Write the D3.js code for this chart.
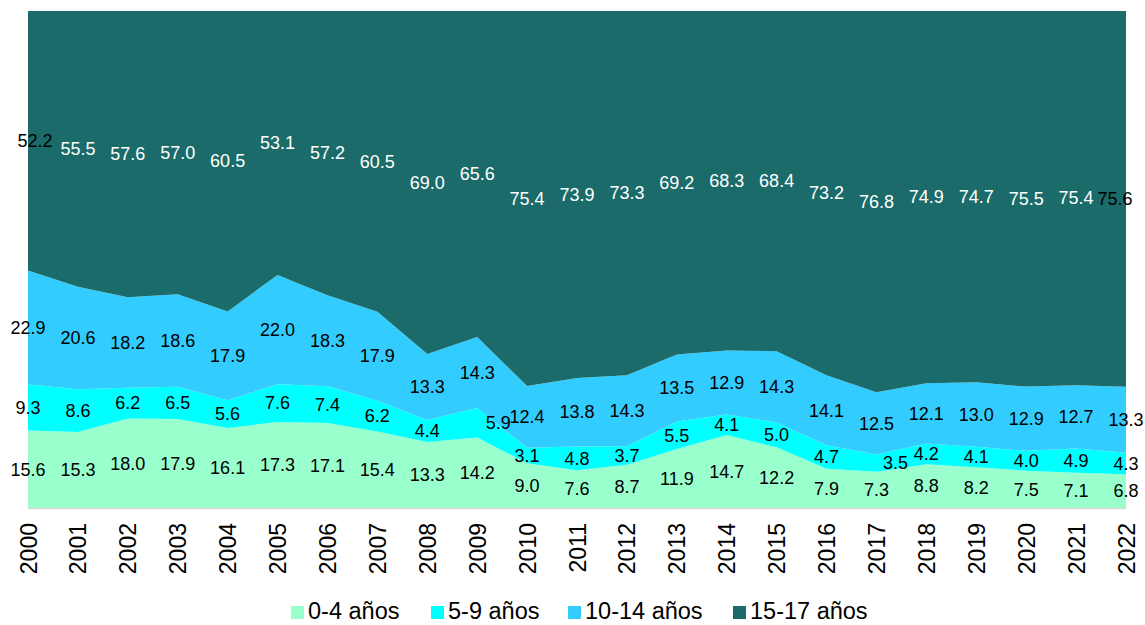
<!DOCTYPE html>
<html>
<head>
<meta charset="utf-8">
<script src="https://cdn.jsdelivr.net/npm/d3@7"></script>
<style>
  body { margin: 0; background: #fff; }
  svg { display: block; font-family: "Liberation Sans", Arial, sans-serif; }
</style>
</head>
<body>
<svg id="chart" width="1145" height="625"></svg>
<script>
const years = ["2000","2001","2002","2003","2004","2005","2006","2007","2008","2009","2010","2011","2012","2013","2014","2015","2016","2017","2018","2019","2020","2021","2022"];
const seriesNames = ["0-4 años", "5-9 años", "10-14 años", "15-17 años"];
const age0_4   = [15.6,15.3,18.0,17.9,16.1,17.3,17.1,15.4,13.3,14.2,9.0,7.6,8.7,11.9,14.7,12.2,7.9,7.3,8.8,8.2,7.5,7.1,6.8];
const age5_9   = [9.3,8.6,6.2,6.5,5.6,7.6,7.4,6.2,4.4,5.9,3.1,4.8,3.7,5.5,4.1,5.0,4.7,3.5,4.2,4.1,4.0,4.9,4.3];
const age10_14 = [22.9,20.6,18.2,18.6,17.9,22.0,18.3,17.9,13.3,14.3,12.4,13.8,14.3,13.5,12.9,14.3,14.1,12.5,12.1,13.0,12.9,12.7,13.3];
const age15_17 = [52.2,55.5,57.6,57.0,60.5,53.1,57.2,60.5,69.0,65.6,75.4,73.9,73.3,69.2,68.3,68.4,73.2,76.8,74.9,74.7,75.5,75.4,75.6];

const colors = ["#99FFCC", "#00FFFF", "#33CCFF", "#1A6B69"];
const labelColors = ["#000", "#000", "#000", "#fff"];
// manual label nudges (px) seen in the reference
const labelNudge = {"15-17 años|2000": 7, "15-17 años|2022": -11, "5-9 años|2009": 21, "5-9 años|2017": 19};
const labelBlack = {"15-17 años|2000": true, "15-17 años|2022": true};

const seriesValues = [age0_4, age5_9, age10_14, age15_17];
const rows = years.map((y, i) => {
  const r = {year: y};
  seriesNames.forEach((s, k) => r[s] = seriesValues[k][i]);
  return r;
});

const W = 1145, H = 625;
const m = {left: 28, right: 19, top: 11, bottom: 117};
const svg = d3.select("#chart");

const x = d3.scalePoint().domain(years).range([m.left, W - m.right]);
const y = d3.scaleLinear().domain([0, 1]).range([H - m.bottom, m.top]);

const stack = d3.stack().keys(seriesNames).offset(d3.stackOffsetExpand);
const layers = stack(rows);

const area = d3.area()
  .x(d => x(d.data.year))
  .y0(d => y(d[0]))
  .y1(d => y(d[1]));

svg.append("g").selectAll("path")
  .data(layers)
  .join("path")
  .attr("fill", (d, i) => colors[i])
  .attr("d", area);

// bottom axis line
svg.append("line")
  .attr("x1", m.left).attr("x2", W - m.right)
  .attr("y1", H - m.bottom + 0.5).attr("y2", H - m.bottom + 0.5)
  .attr("stroke", "#d9d9d9").attr("stroke-width", 1.5);

// x axis tick labels (rotated)
const xAxis = d3.axisBottom(x).tickSize(0).tickPadding(0);
const gx = svg.append("g").attr("transform", `translate(0,${H - m.bottom})`).call(xAxis);
gx.select(".domain").remove();
gx.selectAll("text")
  .attr("transform", "rotate(-90)")
  .attr("x", -15).attr("y", 0).attr("dy", "0.35em")
  .style("text-anchor", "end")
  .style("font-size", "23px")
  .style("font-family", "'Liberation Sans', Arial, sans-serif")
  .attr("fill", "#000");

// data labels
const lg = svg.append("g");
layers.forEach((layer, k) => {
  lg.selectAll(null)
    .data(layer)
    .join("text")
    .attr("x", d => x(d.data.year) + (labelNudge[layer.key + "|" + d.data.year] || 0))
    .attr("y", d => y((d[0] + d[1]) / 2))
    .attr("dy", "0.35em")
    .attr("text-anchor", "middle")
    .style("font-size", "18px")
    .attr("fill", d => labelBlack[layer.key + "|" + d.data.year] ? "#000" : labelColors[k])
    .text(d => d3.format(".1f")(d.data[layer.key]));
});

// legend
const legendX = [291, 431, 568, 733];
const leg = svg.append("g");
seriesNames.forEach((s, i) => {
  const g = leg.append("g").attr("transform", `translate(${legendX[i]},0)`);
  g.append("rect").attr("x", 0).attr("y", 606).attr("width", 13).attr("height", 13).attr("fill", colors[i]);
  g.append("text").attr("x", 17).attr("y", 619).style("font-size", "23.5px").attr("fill", "#000").text(s);
});
</script>
</body>
</html>
